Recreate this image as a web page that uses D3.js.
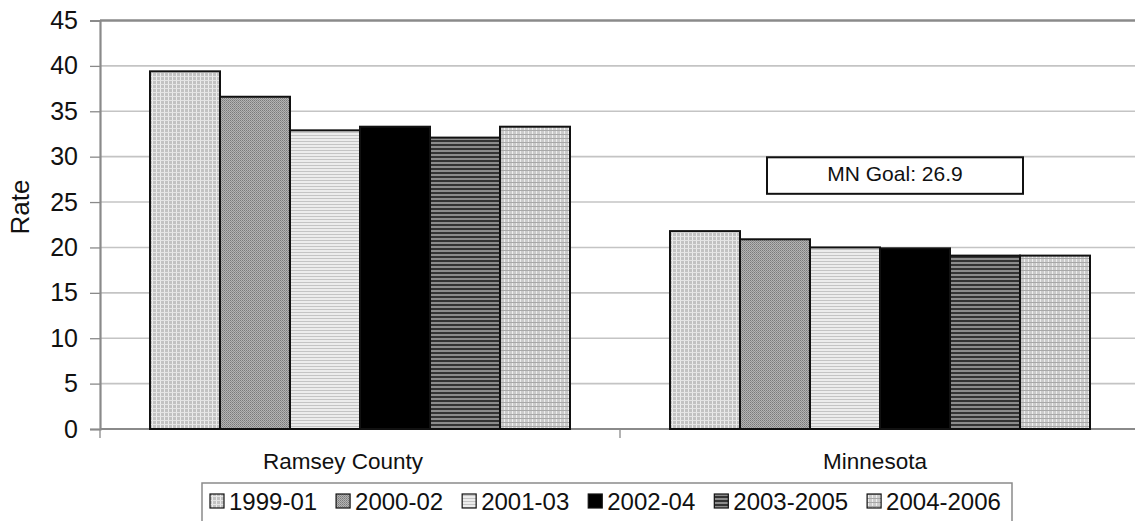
<!DOCTYPE html>
<html>
<head>
<meta charset="utf-8">
<script src="https://cdn.jsdelivr.net/npm/d3@7/dist/d3.min.js"></script>
<style>
  html, body { margin: 0; padding: 0; background: #fff; }
  svg { display: block; font-family: "Liberation Sans", Arial, sans-serif; }
</style>
</head>
<body>
<svg id="chart" width="1135" height="521"></svg>
<script>
// Rates by area and period
const categories = ["Ramsey County", "Minnesota"];
const periods = ["1999-01", "2000-02", "2001-03", "2002-04", "2003-2005", "2004-2006"];
const ramseyValues = [39.4, 36.6, 32.9, 33.3, 32.1, 33.3];
const minnesotaValues = [21.8, 20.9, 20.0, 19.9, 19.1, 19.1];
const yTicks = [0, 5, 10, 15, 20, 25, 30, 35, 40, 45];
const goalValue = 26.9;
const goalLabel = "MN Goal: 26.9";

const seriesByCategory = {
  "Ramsey County": ramseyValues,
  "Minnesota": minnesotaValues
};

const svg = d3.select("#chart");
const plotLeft = 100, plotRight = 1140, plotTop = 20.5, plotBottom = 429;

const y = d3.scaleLinear().domain([0, 45]).range([plotBottom, plotTop]);
const x0 = d3.scaleBand().domain(categories).range([plotLeft, plotRight]).padding(0);
const x1 = d3.scaleBand().domain(periods).range([50, x0.bandwidth() - 50]).padding(0);

// Fill patterns, one per period
const defs = svg.append("defs");
function pattern(id, w, h, draw) {
  const p = defs.append("pattern").attr("id", id).attr("patternUnits", "userSpaceOnUse")
    .attr("width", w).attr("height", h);
  draw(p);
}
pattern("p0", 4, 4, p => {
  p.append("rect").attr("width", 4).attr("height", 4).attr("fill", "#c2c2c2");
  p.append("rect").attr("x", 0).attr("width", 1).attr("height", 4).attr("fill", "#ececec");
  p.append("rect").attr("y", 0).attr("width", 4).attr("height", 1).attr("fill", "#e4e4e4");
});
pattern("p1", 2, 2, p => {
  p.append("rect").attr("width", 2).attr("height", 2).attr("fill", "#b4b4b4");
  p.append("rect").attr("width", 1).attr("height", 1).attr("fill", "#7a7a7a");
  p.append("rect").attr("x", 1).attr("y", 1).attr("width", 1).attr("height", 1).attr("fill", "#8e8e8e");
});
pattern("p2", 4, 3, p => {
  p.append("rect").attr("width", 4).attr("height", 3).attr("fill", "#ececec");
  p.append("rect").attr("y", 0).attr("width", 4).attr("height", 1).attr("fill", "#c4c4c4");
});
pattern("p3", 4, 4, p => {
  p.append("rect").attr("width", 4).attr("height", 4).attr("fill", "#000");
});
pattern("p4", 4, 4, p => {
  p.append("rect").attr("width", 4).attr("height", 4).attr("fill", "#8c8c8c");
  p.append("rect").attr("y", 0).attr("width", 4).attr("height", 2).attr("fill", "#333");
});
pattern("p5", 4, 4, p => {
  p.append("rect").attr("width", 4).attr("height", 4).attr("fill", "#cbcbcb");
  p.append("rect").attr("x", 0).attr("width", 1).attr("height", 4).attr("fill", "#eeeeee");
  p.append("rect").attr("y", 2).attr("width", 4).attr("height", 1).attr("fill", "#a8a8a8");
});
const fillFor = p => `url(#p${periods.indexOf(p)})`;

// Gridlines
svg.append("g").selectAll("line").data(yTicks.filter(t => t > 0)).join("line")
  .attr("x1", plotLeft).attr("x2", plotRight)
  .attr("y1", d => y(d)).attr("y2", d => y(d))
  .attr("stroke", d => d === 45 ? "#8a8a8a" : "#c4c4c4")
  .attr("stroke-width", d => d === 45 ? 2.5 : 1.6);

// Y axis
const yAxis = svg.append("g").attr("transform", `translate(${plotLeft},0)`)
  .call(d3.axisLeft(y).tickValues(yTicks).tickSize(10).tickPadding(12));
yAxis.select(".domain").attr("stroke", "#8a8a8a").attr("stroke-width", 2.2);
yAxis.selectAll(".tick line").attr("stroke", "#8a8a8a").attr("stroke-width", 1.3);
yAxis.selectAll(".tick text").attr("font-size", 25).attr("fill", "#111")
  .attr("font-family", "Liberation Sans, Arial, sans-serif");

// X axis
const xAxis = svg.append("g").attr("transform", `translate(0,${plotBottom})`);
xAxis.append("line").attr("x1", plotLeft).attr("x2", plotRight).attr("y1", 0).attr("y2", 0)
  .attr("stroke", "#8a8a8a").attr("stroke-width", 2.2);
xAxis.selectAll("line.tk").data([plotLeft, plotLeft + x0.bandwidth(), plotRight]).join("line")
  .attr("class", "tk").attr("x1", d => d).attr("x2", d => d).attr("y1", 0).attr("y2", 9)
  .attr("stroke", "#8a8a8a").attr("stroke-width", 1.3);

// Bars
const groups = svg.append("g").selectAll("g").data(categories).join("g")
  .attr("transform", d => `translate(${x0(d)},0)`);
groups.selectAll("rect")
  .data(c => periods.map((p, i) => ({ period: p, value: seriesByCategory[c][i] })))
  .join("rect")
  .attr("x", d => x1(d.period))
  .attr("y", d => y(d.value))
  .attr("width", x1.bandwidth())
  .attr("height", d => y(0) - y(d.value))
  .attr("fill", d => fillFor(d.period))
  .attr("stroke", "#111")
  .attr("stroke-width", 2);

// Category labels
const labelShift = { "Ramsey County": -17, "Minnesota": -5 };
svg.append("g").selectAll("text").data(categories).join("text")
  .attr("x", d => x0(d) + x0.bandwidth() / 2 + labelShift[d])
  .attr("y", 469)
  .attr("text-anchor", "middle")
  .attr("font-size", 22.5).attr("fill", "#111")
  .text(d => d);

// Y axis title
svg.append("text")
  .attr("transform", "translate(29,207) rotate(-90)")
  .attr("text-anchor", "middle")
  .attr("font-size", 26).attr("fill", "#111")
  .text("Rate");

// Goal annotation box
const goalG = svg.append("g");
const goalX0 = x0("Minnesota") + 147, goalX1 = x0("Minnesota") + 403;
const goalTop = y(goalValue) - 27.5;
goalG.append("rect")
  .attr("x", goalX0).attr("y", goalTop)
  .attr("width", goalX1 - goalX0).attr("height", 36.5)
  .attr("fill", "#fff").attr("stroke", "#111").attr("stroke-width", 2);
goalG.append("text")
  .attr("x", (goalX0 + goalX1) / 2).attr("y", goalTop + 24)
  .attr("text-anchor", "middle").attr("font-size", 21).attr("fill", "#111")
  .text(goalLabel);

// Legend
const legend = svg.append("g");
legend.append("rect").attr("x", 202).attr("y", 483).attr("width", 810).attr("height", 50)
  .attr("fill", "#fff").attr("stroke", "#8a8a8a").attr("stroke-width", 1.5);
let lx = 210;
periods.forEach(p => {
  const it = legend.append("g");
  it.append("rect").attr("x", lx).attr("y", 494).attr("width", 14).attr("height", 14)
    .attr("fill", fillFor(p)).attr("stroke", "#111").attr("stroke-width", 1.2);
  const t = it.append("text").attr("x", lx + 19).attr("y", 510)
    .attr("font-size", 24).attr("fill", "#111").text(p);
  lx = lx + 19 + t.node().getComputedTextLength() + 19;
});
</script>
</body>
</html>
